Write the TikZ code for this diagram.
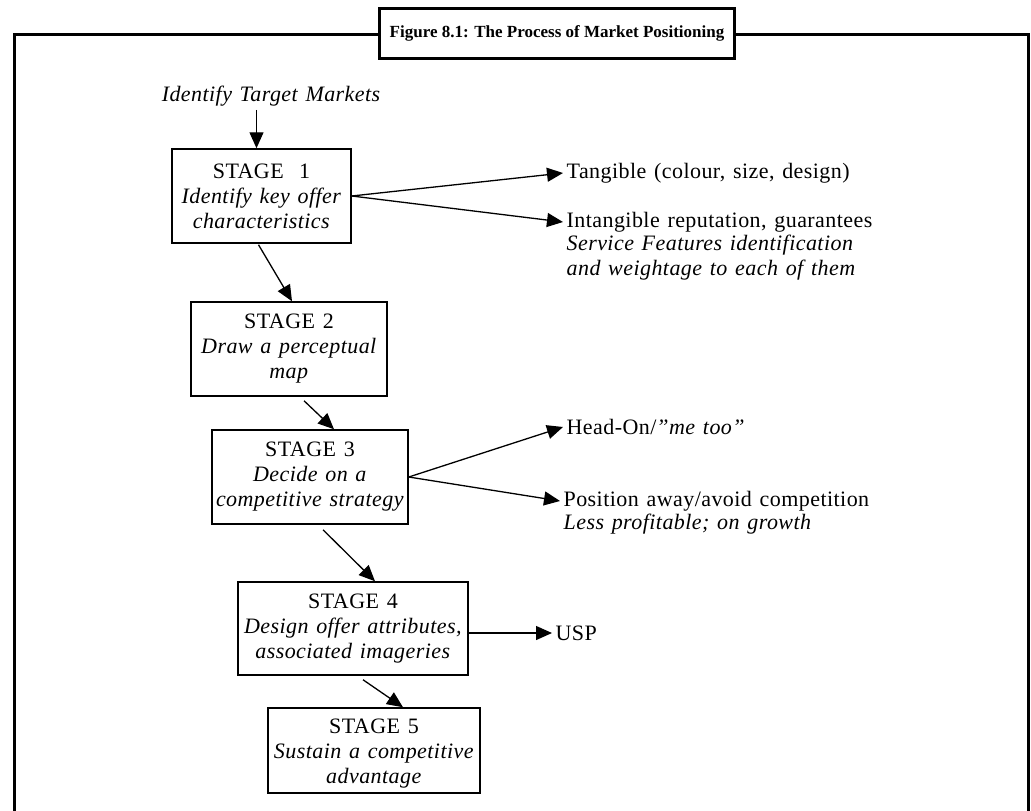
\documentclass[tikz,border=0pt]{standalone}
\usepackage{fontspec}
\setmainfont{Liberation Serif}[LetterSpace=2,WordSpace=1.3]
\newfontfamily\titlefont{Liberation Serif}
\usetikzlibrary{arrows.meta,calc}

\begin{document}
\begin{tikzpicture}[x=1pt,y=-1pt,
    stagebox/.style={draw=black,line width=1.5pt,align=center,inner sep=0pt},
    lbl/.style={align=left,inner sep=3pt},
    every node/.style={font=\fontsize{22}{25}\selectfont},
    >={Triangle[length=16pt,width=14pt]},
    line width=1.3pt]
    \useasboundingbox (0,0) rectangle (1031,811);

    % outer frame
    \draw[line width=3pt] (14,811) -- (14,34) -- (1028,34) -- (1028,811);
    \node[draw=black,fill=white,line width=3pt,minimum width=355pt,minimum height=50pt,
          font=\titlefont\fontsize{17}{20}\selectfont\bfseries] (title) at (557,33)
          {Figure 8.1: The Process of Market Positioning};

    \node[lbl] (itm) at (271,96) {\itshape Identify Target Markets};

    \node[stagebox,minimum width=179pt,minimum height=94pt] (s1) at (261.5,196)
        {STAGE~ 1\\\textit{Identify key offer}\\\textit{characteristics}};
    \node[stagebox,minimum width=196pt,minimum height=94pt] (s2) at (289,349)
        {STAGE 2\\\textit{Draw a perceptual}\\\textit{map}};
    \node[stagebox,minimum width=196pt,minimum height=94pt] (s3) at (310,477)
        {STAGE 3\\\textit{Decide on a}\\\textit{competitive strategy}};
    \node[stagebox,minimum width=230pt,minimum height=93pt] (s4) at (353,628.5)
        {STAGE 4\\\textit{Design offer attributes,}\\\textit{associated imageries}};
    \node[stagebox,minimum width=212pt,minimum height=85pt] (s5) at (374,750.5)
        {\rule{0pt}{20pt}STAGE 5\\\textit{Sustain a competitive}\\\textit{advantage}};

    \node[lbl,anchor=west] (tang) at (563,173) {Tangible (colour, size, design)};
    \node[lbl,anchor=west] (intang) at (563,222) {Intangible reputation, guarantees};
    \node[lbl,anchor=north west,yshift=4pt] (serv) at (intang.south west)
        {\itshape Service Features identification\\\itshape and weightage to each of them};
    \node[lbl,anchor=west] (head) at (563,427) {Head-On/\textit{”me too”}};
    \node[lbl,anchor=west] (away) at (560,501) {Position away/avoid competition};
    \node[lbl,anchor=north west,yshift=4pt] (less) at (away.south west)
        {\itshape Less profitable; on growth};
    \node[lbl,anchor=west] (usp) at (552,633) {USP};

    \path [->] ([xshift=-5pt]itm.south -| s1.north) edge ([xshift=-5pt]s1.north);
    \path [->] (s1.east) edge (tang.west);
    \path [->] (s1.east) edge (intang.west);
    \path [->] ($(s1.south)+(-3,1)$) edge ($(s2.north)+(3,0)$);
    \path [->] ($(s2.south)+(15,4)$) edge ($(s3.north)+(24,0)$);
    \path [->] (s3.east) edge (head.west);
    \path [->] (s3.east) edge (away.west);
    \path [->] ($(s3.south)+(13,5)$) edge ($(s4.north)+(22,0)$);
    \path [->] (s4.east |- usp.west) edge (usp.west);
    \path [->] ($(s4.south)+(10,4)$) edge ($(s5.north)+(29,0)$);
\end{tikzpicture}
\end{document}
